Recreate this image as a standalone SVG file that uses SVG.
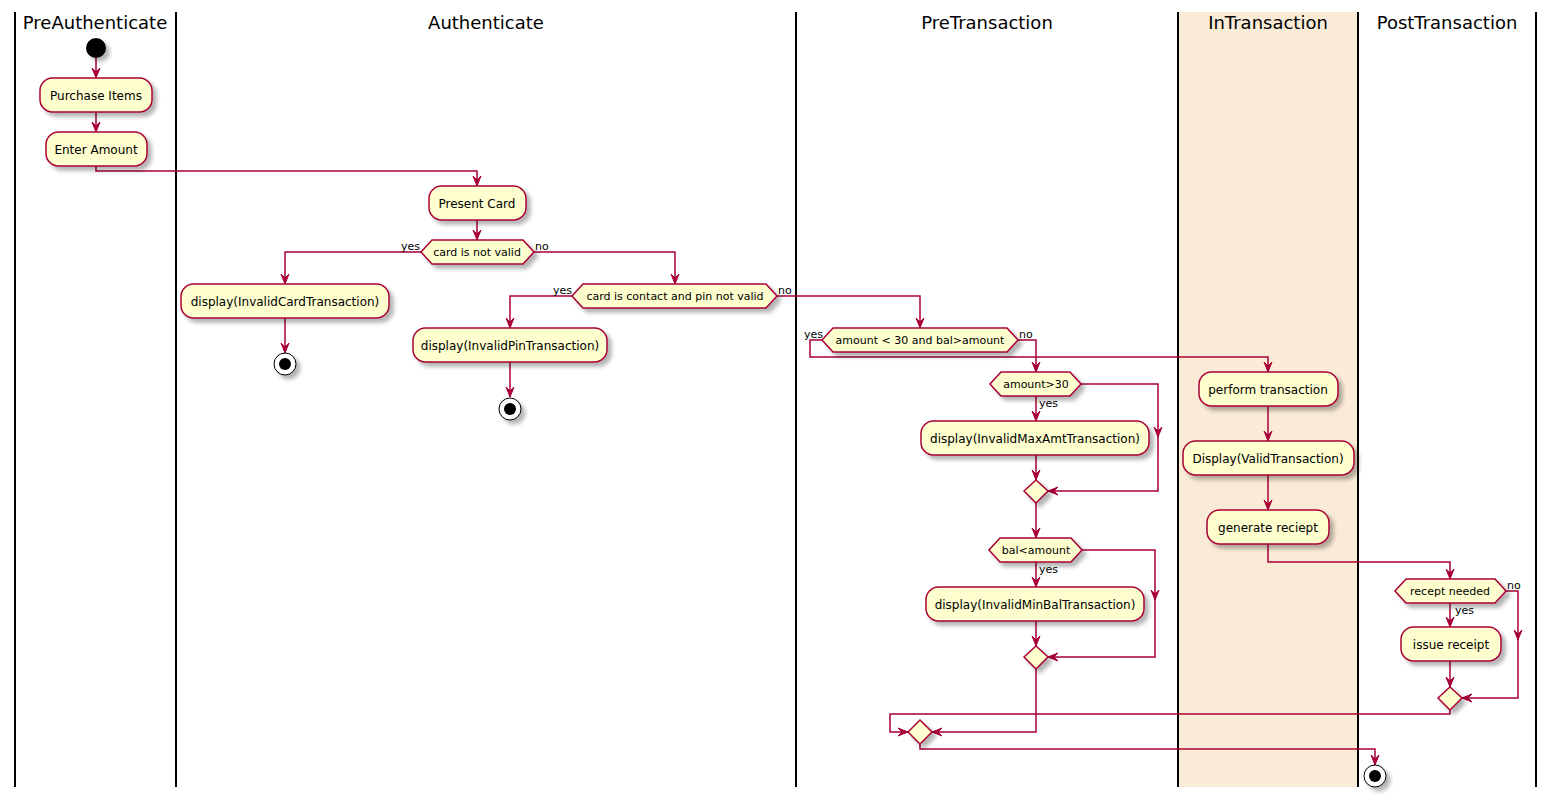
<svg xmlns="http://www.w3.org/2000/svg" width="1555" height="797" viewBox="0 0 1555 797">
<defs>
<style>
.lane{stroke:#000;stroke-width:2;fill:none}
.title{font-family:"DejaVu Sans",sans-serif;font-size:18px;fill:#000;text-anchor:middle}
.box{fill:#FEFECE;stroke:#A80036;stroke-width:1.5;filter:url(#sh)}
.t{font-family:"DejaVu Sans",sans-serif;font-size:12px;fill:#000;text-anchor:middle}
.dt{font-family:"DejaVu Sans",sans-serif;font-size:11px;fill:#000;text-anchor:middle}
.lbl{font-family:"DejaVu Sans",sans-serif;font-size:11px;fill:#000}
.c{fill:none;stroke:#A80036;stroke-width:1.5}
.ca{fill:none;stroke:#A80036;stroke-width:1.5;marker-end:url(#ah)}
</style>
<marker id="ah" markerUnits="userSpaceOnUse" markerWidth="12" markerHeight="10" refX="10" refY="4" orient="auto" overflow="visible">
<path d="M0,0 L10,4 L0,8 L4,4 Z" fill="#A80036" stroke="#A80036" stroke-width="1"/>
</marker>
<filter id="sh" x="-20%" y="-30%" width="150%" height="180%">
<feGaussianBlur in="SourceAlpha" stdDeviation="2"/>
<feOffset dx="4" dy="4"/>
<feComponentTransfer><feFuncA type="linear" slope="0.3"/></feComponentTransfer>
<feMerge><feMergeNode/><feMergeNode in="SourceGraphic"/></feMerge>
</filter>
</defs>
<rect width="1555" height="797" fill="#FFFFFF"/>
<g id="lanes">
<rect x="1178" y="12" width="180" height="775" fill="#FAEBD7"/>
<line class="lane" x1="15" y1="12" x2="15" y2="787"/>
<line class="lane" x1="176" y1="12" x2="176" y2="787"/>
<line class="lane" x1="796" y1="12" x2="796" y2="787"/>
<line class="lane" x1="1178" y1="12" x2="1178" y2="787"/>
<line class="lane" x1="1358" y1="12" x2="1358" y2="787"/>
<line class="lane" x1="1536" y1="12" x2="1536" y2="787"/>
<text class="title" x="95" y="29">PreAuthenticate</text>
<text class="title" x="486" y="29">Authenticate</text>
<text class="title" x="987" y="29">PreTransaction</text>
<text class="title" x="1268" y="29">InTransaction</text>
<text class="title" x="1447" y="29">PostTransaction</text>
</g>
<g id="connectors">
<path class="ca" d="M96,58 V78"/>
<path class="ca" d="M96,112 V132"/>
<path class="ca" d="M96,166 V171 H477 V186"/>
<path class="ca" d="M477,220 V240"/>
<path class="ca" d="M421,252 H285 V284"/>
<path class="ca" d="M285,318 V353"/>
<path class="ca" d="M534,252 H675 V284"/>
<path class="ca" d="M572,296 H510 V328"/>
<path class="ca" d="M510,362 V397"/>
<path class="ca" d="M777,296 H920 V328"/>
<path class="ca" d="M822,340 H810 V357 H1268 V372"/>
<path class="ca" d="M1018,340 H1036 V372"/>
<path class="ca" d="M1036,396 V421"/>
<path class="ca" d="M1081,384 H1158 V437"/>
<path class="ca" d="M1158,437 V491 H1048"/>
<path class="ca" d="M1036,455 V480"/>
<path class="ca" d="M1036,503 V538"/>
<path class="ca" d="M1036,562 V587"/>
<path class="ca" d="M1082,550 H1155 V600"/>
<path class="ca" d="M1155,600 V657 H1048"/>
<path class="ca" d="M1036,621 V646"/>
<path class="ca" d="M1036,669 V732 H932"/>
<path class="ca" d="M1268,406 V441"/>
<path class="ca" d="M1268,475 V510"/>
<path class="ca" d="M1268,544 V562 H1450 V579"/>
<path class="ca" d="M1450,603 V627"/>
<path class="ca" d="M1506,591 H1518 V640"/>
<path class="ca" d="M1518,640 V698 H1462"/>
<path class="ca" d="M1450,661 V687"/>
<path class="ca" d="M1450,710 V714 H890 V732 H908"/>
<path class="ca" d="M920,744 V749 H1375 V765"/>
<text class="lbl" x="420" y="250" text-anchor="end">yes</text>
<text class="lbl" x="535" y="250">no</text>
<text class="lbl" x="572" y="294" text-anchor="end">yes</text>
<text class="lbl" x="778" y="294">no</text>
<text class="lbl" x="823" y="338" text-anchor="end">yes</text>
<text class="lbl" x="1019" y="338">no</text>
<text class="lbl" x="1039" y="407">yes</text>
<text class="lbl" x="1039" y="573">yes</text>
<text class="lbl" x="1455" y="614">yes</text>
<text class="lbl" x="1507" y="589">no</text>
</g>
<g id="start"><circle cx="96" cy="48" r="10" fill="#000" filter="url(#sh)"/></g>
<g id="purchase"><rect class="box" x="40" y="78" width="112" height="34" rx="12.5"/><text class="t" x="96" y="100">Purchase Items</text></g>
<g id="enter"><rect class="box" x="46" y="132" width="101" height="34" rx="12.5"/><text class="t" x="96" y="154">Enter Amount</text></g>
<g id="present"><rect class="box" x="429" y="186" width="97" height="34" rx="12.5"/><text class="t" x="477" y="208">Present Card</text></g>
<g id="d1"><polygon class="box" points="421,252 432,240 523,240 534,252 523,264 432,264"/><text class="dt" x="477" y="256">card is not valid</text></g>
<g id="invcard"><rect class="box" x="181" y="284" width="208" height="34" rx="12.5"/><text class="t" x="285" y="306">display(InvalidCardTransaction)</text></g>
<g id="stop1"><circle cx="285" cy="364" r="11" fill="#FFF" stroke="#000" stroke-width="1" filter="url(#sh)"/><circle cx="285" cy="364" r="6" fill="#000"/></g>
<g id="d2"><polygon class="box" points="572,296 583,284 766,284 777,296 766,308 583,308"/><text class="dt" x="675" y="300">card is contact and pin not valid</text></g>
<g id="invpin"><rect class="box" x="413" y="328" width="194" height="34" rx="12.5"/><text class="t" x="510" y="350">display(InvalidPinTransaction)</text></g>
<g id="stop2"><circle cx="510" cy="409" r="11" fill="#FFF" stroke="#000" stroke-width="1" filter="url(#sh)"/><circle cx="510" cy="409" r="6" fill="#000"/></g>
<g id="d3"><polygon class="box" points="822,340 833,328 1007,328 1018,340 1007,352 833,352"/><text class="dt" x="920" y="344">amount &lt; 30 and bal&gt;amount</text></g>
<g id="d4"><polygon class="box" points="990,384 1001,372 1070,372 1081,384 1070,396 1001,396"/><text class="dt" x="1036" y="388">amount&gt;30</text></g>
<g id="invmax"><rect class="box" x="921" y="421" width="228" height="34" rx="12.5"/><text class="t" x="1035" y="443">display(InvalidMaxAmtTransaction)</text></g>
<g id="m1"><polygon class="box" points="1024,491 1036,480 1048,491 1036,503"/></g>
<g id="d5"><polygon class="box" points="989,550 1000,538 1071,538 1082,550 1071,562 1000,562"/><text class="dt" x="1036" y="554">bal&lt;amount</text></g>
<g id="invmin"><rect class="box" x="926" y="587" width="218" height="34" rx="12.5"/><text class="t" x="1035" y="609">display(InvalidMinBalTransaction)</text></g>
<g id="m2"><polygon class="box" points="1024,657 1036,646 1048,657 1036,669"/></g>
<g id="m4"><polygon class="box" points="908,732 920,720 932,732 920,744"/></g>
<g id="perform"><rect class="box" x="1199" y="372" width="139" height="34" rx="12.5"/><text class="t" x="1268" y="394">perform transaction</text></g>
<g id="valid"><rect class="box" x="1183" y="441" width="171" height="34" rx="12.5"/><text class="t" x="1268" y="463">Display(ValidTransaction)</text></g>
<g id="generate"><rect class="box" x="1207" y="510" width="122" height="34" rx="12.5"/><text class="t" x="1268" y="532">generate reciept</text></g>
<g id="d6"><polygon class="box" points="1395,591 1406,579 1495,579 1506,591 1495,603 1406,603"/><text class="dt" x="1450" y="595">recept needed</text></g>
<g id="issue"><rect class="box" x="1401" y="627" width="100" height="34" rx="12.5"/><text class="t" x="1451" y="649">issue receipt</text></g>
<g id="m3"><polygon class="box" points="1438,698 1450,687 1462,698 1450,710"/></g>
<g id="stop3"><circle cx="1375" cy="776" r="11" fill="#FFF" stroke="#000" stroke-width="1" filter="url(#sh)"/><circle cx="1375" cy="776" r="6" fill="#000"/></g>
</svg>
